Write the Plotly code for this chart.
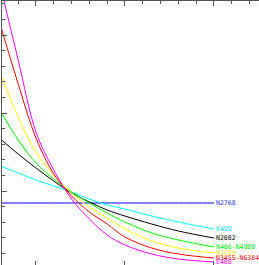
import plotly.graph_objects as go

# x positions (data units) and curve values
x_vals = [0.6, 0.8, 1.0, 1.2, 1.4, 1.6, 1.8, 2.0, 2.3, 2.6, 3.0]

e408 = [3.628, 2.679, 1.756, 1.269, 0.897, 0.641, 0.436, 0.308, 0.192, 0.128, 0.090]
n3455 = [3.128, 2.372, 1.679, 1.218, 0.936, 0.731, 0.577, 0.410, 0.269, 0.192, 0.141]
n3259 = [2.500, 1.949, 1.500, 1.205, 0.974, 0.795, 0.654, 0.513, 0.359, 0.269, 0.205]
n406 = [2.026, 1.654, 1.359, 1.154, 0.987, 0.846, 0.718, 0.603, 0.462, 0.372, 0.282]
n2082 = [1.667, 1.474, 1.295, 1.128, 0.974, 0.859, 0.756, 0.679, 0.577, 0.487, 0.397]
e499 = [1.321, 1.231, 1.141, 1.064, 0.987, 0.897, 0.821, 0.769, 0.679, 0.603, 0.513]
n2768 = [0.846, 0.846, 0.846, 0.846, 0.846, 0.846, 0.846, 0.846, 0.846, 0.846, 0.846]

names = ["N2768", "E499", "N2082", "N406-N4980", "N3259", "N3455-N6384", "E408"]
series = [n2768, e499, n2082, n406, n3259, n3455, e408]
colors = ["#0000ff", "#00ffff", "#000000", "#00ff00", "#ffff00", "#ff0000", "#ff00ff"]
label_colors = ["#3030ff", "#00e8ff", "#000000", "#00ee00", "#f0f000", "#ff0000", "#ff00ff"]

x_range = [0.618, 3.506]
y_range = [0.0513, 3.436]

fig = go.Figure()
for name, ys, c in zip(names, series, colors):
    fig.add_trace(go.Scatter(x=x_vals, y=ys, mode="lines", name=name,
                             line=dict(color=c, width=1, shape="spline"),
                             showlegend=False, hoverinfo="skip"))

# invisible trace to carry the bottom tick axis
fig.add_trace(go.Scatter(x=[x_vals[0]], y=[n2768[0]], xaxis="x2", mode="markers",
                         marker=dict(opacity=0), showlegend=False, hoverinfo="skip"))

for name, ys, lc in zip(names, series, label_colors):
    fig.add_annotation(x=x_vals[-1], y=ys[-1], text=name, showarrow=False,
                       xanchor="left", yanchor="middle", xshift=0,
                       font=dict(family="DejaVu Sans Mono", size=6.5, color=lc))

axis_col = "#555555"
fig.update_layout(
    width=259, height=265,
    margin=dict(l=2, r=0, t=1, b=0),
    paper_bgcolor="white", plot_bgcolor="white",
    xaxis=dict(range=x_range, side="top", showline=True, linecolor=axis_col, linewidth=1,
               ticks="inside", ticklen=5, tickcolor=axis_col, tick0=0, dtick=1,
               showticklabels=False, showgrid=False, zeroline=False,
               minor=dict(ticks="inside", ticklen=3, tickcolor=axis_col, dtick=0.2, tick0=0,
                          showgrid=False)),
    xaxis2=dict(range=x_range, overlaying="x", side="bottom", showline=False,
                ticks="inside", ticklen=4, tickcolor=axis_col, tick0=0, dtick=1,
                showticklabels=False, showgrid=False, zeroline=False),
    yaxis=dict(range=y_range, showline=True, linecolor=axis_col, linewidth=1,
               ticks="inside", ticklen=5, tickcolor=axis_col, tick0=0, dtick=1,
               showticklabels=False, showgrid=False, zeroline=False,
               minor=dict(ticks="inside", ticklen=3, tickcolor=axis_col, dtick=0.2, tick0=0,
                          showgrid=False)),
)

fig.write_html("out.html", config={"displayModeBar": False},
               post_script="document.body.style.margin='0';document.body.style.overflow='hidden';")
